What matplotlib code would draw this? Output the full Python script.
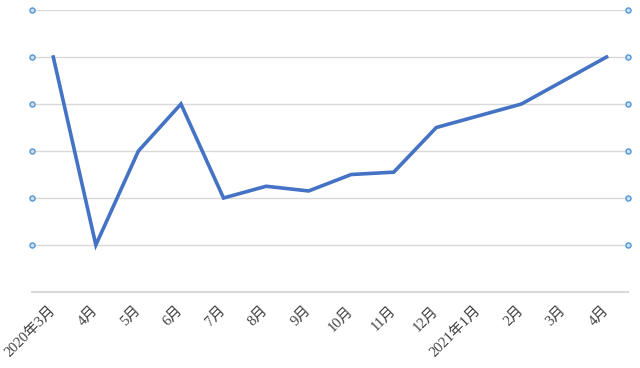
import matplotlib
matplotlib.use("Agg")
import matplotlib.pyplot as plt

# monthly series, category axis
months = ["2020年3月", "4月", "5月", "6月", "7月", "8月", "9月", "10月",
          "11月", "12月", "2021年1月", "2月", "3月", "4月"]
values = [5.0, 1.0, 3.0, 4.0, 2.0, 2.25, 2.15, 2.5, 2.55, 3.5, 3.75, 4.0, 4.5, 5.0]
grid_levels = [1, 2, 3, 4, 5, 6]

line_color = "#4472C4"
grid_color = "#d9d9d9"
marker_color = "#5B9BD5"

fig = plt.figure(figsize=(6.4, 3.68), dpi=100)
ax = fig.add_axes([0.05, 0.2065, 0.931, 0.7663])

x = list(range(len(months)))
ax.plot(x, values, color=line_color, lw=2.6, solid_joinstyle="miter", zorder=3)

ax.set_xlim(-0.5, len(months) - 0.5)
ax.set_ylim(0, 6)

# horizontal gridlines with small circle handles at both ends
for lv in grid_levels:
    ax.axhline(lv, color=grid_color, lw=1, zorder=1)
left = [ax.get_xlim()[0]] * len(grid_levels)
right = [ax.get_xlim()[1]] * len(grid_levels)
for xs in (left, right):
    ax.plot(xs, grid_levels, ls="none", marker="o", ms=3.6, mec=marker_color,
            mfc="#cfe2f3", mew=1.1, clip_on=False, zorder=4)

for side in ["top", "left", "right"]:
    ax.spines[side].set_visible(False)
ax.spines["bottom"].set_color(grid_color)
ax.spines["bottom"].set_linewidth(1.5)

ax.set_yticks([])
ax.set_xticks(x)
ax.set_xticklabels(months, rotation=45, ha="right", va="center",
                   rotation_mode="anchor", fontsize=10.5, color="#404040",
                   family=["Liberation Serif", "Noto Sans CJK JP"])
ax.tick_params(axis="x", length=0, pad=12)

fig.savefig("out.png", dpi=100)
